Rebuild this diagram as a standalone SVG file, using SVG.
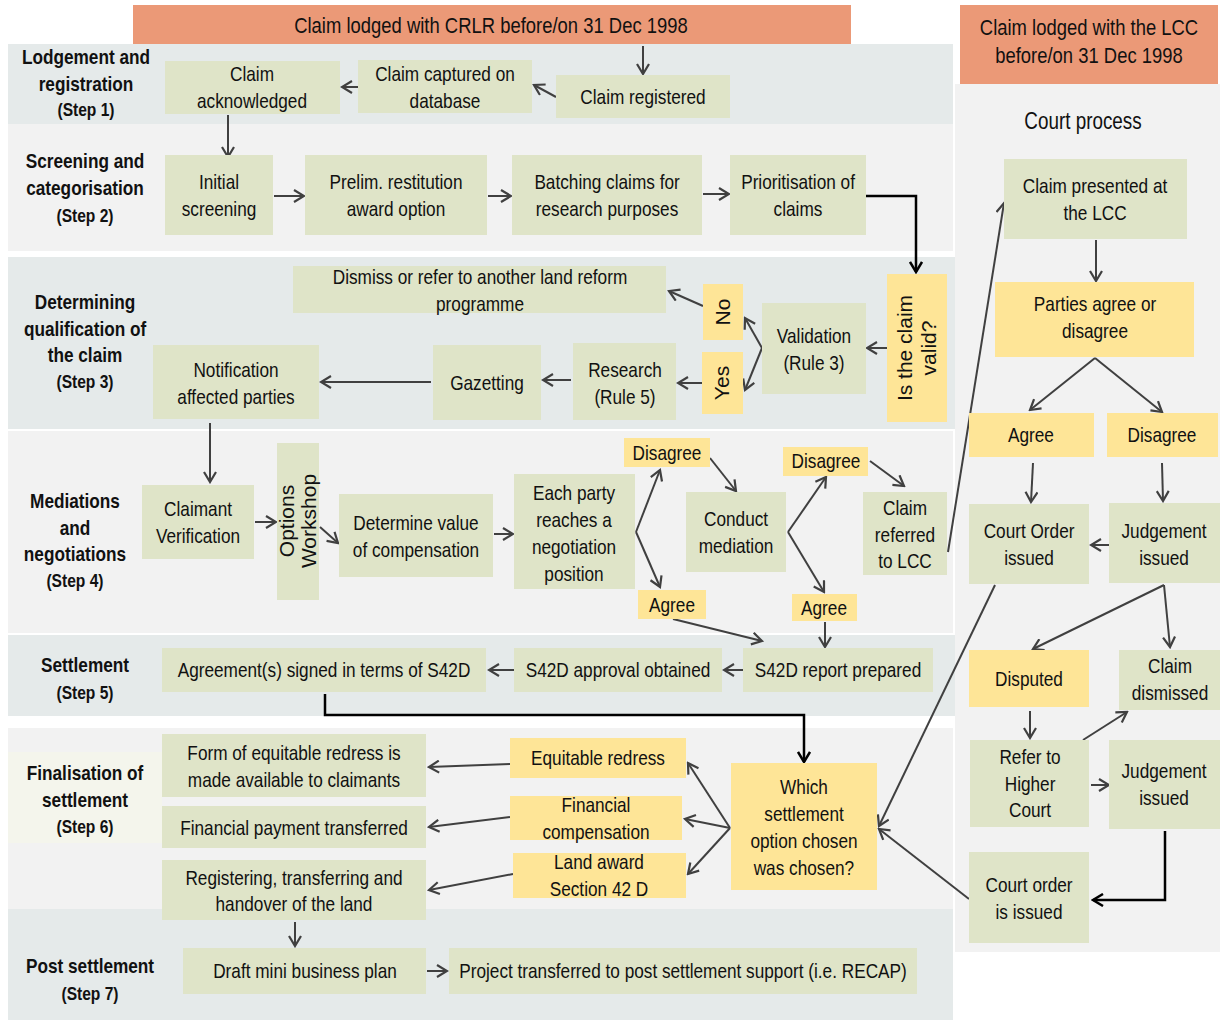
<svg xmlns="http://www.w3.org/2000/svg" width="1220" height="1020" viewBox="0 0 1220 1020">
<defs>
<style>
.bb{fill:#e5eaea}
.bg{fill:#f2f2f2}
.bc{fill:#f4f5ec}
.o{fill:#eb9977}
.g{fill:#dfe4c8}
.y{fill:#fee597}
text{font-family:"Liberation Sans",Arial,sans-serif;font-size:21px;fill:#111;text-anchor:middle;transform-box:fill-box;transform-origin:center;transform:scaleX(.82)}
.s{font-weight:bold;font-size:21px}
.st{font-weight:bold;font-size:19px}
.h{font-size:22.5px}
.r{font-size:21px;transform:none}
.c{stroke:#404040;stroke-width:2;fill:none;marker-end:url(#a)}
.k{stroke:#000;stroke-width:2.5;fill:none;marker-end:url(#ak)}
</style>
<marker id="a" viewBox="0 0 14 14" refX="12" refY="7" markerWidth="14" markerHeight="14" markerUnits="userSpaceOnUse" orient="auto">
<path d="M2,1 L12,7 L2,13" stroke="#404040" stroke-width="2.2" fill="none"/>
</marker>
<marker id="ak" viewBox="0 0 14 14" refX="12" refY="7" markerWidth="14" markerHeight="14" markerUnits="userSpaceOnUse" orient="auto">
<path d="M2,1 L12,7 L2,13" stroke="#000" stroke-width="2.5" fill="none"/>
</marker>
</defs>
<rect width="1220" height="1020" fill="#fff"/>
<g id="bands">
<rect class="bb" x="8" y="44" width="945" height="80"/>
<rect class="bg" x="8" y="124" width="945" height="127"/>
<rect class="bb" x="8" y="257" width="950" height="172"/>
<rect class="bg" x="8" y="431" width="945" height="202"/>
<rect class="bb" x="8" y="635" width="947" height="81"/>
<rect class="bg" x="8" y="728" width="945" height="181"/>
<rect class="bc" x="8" y="752" width="154" height="91"/>
<rect class="bb" x="8" y="909" width="945" height="111"/>
<rect class="bg" x="955" y="84" width="265" height="868"/>
</g>
<g id="steps">
<text class="s" x="86" y="64">Lodgement and</text>
<text class="s" x="86" y="91">registration</text>
<text class="st" x="86" y="116">(Step 1)</text>
<text class="s" x="85" y="168">Screening and</text>
<text class="s" x="85" y="195">categorisation</text>
<text class="st" x="85" y="222">(Step 2)</text>
<text class="s" x="85" y="309">Determining</text>
<text class="s" x="85" y="336">qualification of</text>
<text class="s" x="85" y="362">the claim</text>
<text class="st" x="85" y="388">(Step 3)</text>
<text class="s" x="75" y="508">Mediations</text>
<text class="s" x="75" y="535">and</text>
<text class="s" x="75" y="561">negotiations</text>
<text class="st" x="75" y="587">(Step 4)</text>
<text class="s" x="85" y="672">Settlement</text>
<text class="st" x="85" y="699">(Step 5)</text>
<text class="s" x="85" y="780">Finalisation of</text>
<text class="s" x="85" y="807">settlement</text>
<text class="st" x="85" y="833">(Step 6)</text>
<text class="s" x="90" y="973">Post settlement</text>
<text class="st" x="90" y="1000">(Step 7)</text>
<text class="h" x="1083" y="129" style="font-size:23px">Court process</text>
</g>
<g id="connectors">
<path class="c" d="M643,46 L643,74"/>
<path class="c" d="M556,97 L534,85"/>
<path class="c" d="M358,87 L342,87"/>
<path class="c" d="M228,115 L228,157"/>
<path class="c" d="M274,196 L304,196"/>
<path class="c" d="M488,196 L511,196"/>
<path class="c" d="M703,194 L729,194"/>
<path class="k" d="M866,196 L916,196 L916,272"/>
<path class="c" d="M887,348 L867,348"/>
<path class="c" d="M762,348 L745,318"/>
<path class="c" d="M762,348 L745,390"/>
<path class="c" d="M703,306 L669,291"/>
<path class="c" d="M702,383 L678,383"/>
<path class="c" d="M571,380 L543,380"/>
<path class="c" d="M431,382 L321,382"/>
<path class="c" d="M210,423 L210,482"/>
<path class="c" d="M255,522 L276,522"/>
<path class="c" d="M320,527 L338,543"/>
<path class="c" d="M494,534 L513,534"/>
<path class="c" d="M636,532 L660,470"/>
<path class="c" d="M636,532 L660,587"/>
<path class="c" d="M710,458 L736,491"/>
<path class="c" d="M788,532 L826,477"/>
<path class="c" d="M788,532 L824,592"/>
<path class="c" d="M870,461 L904,486"/>
<path class="c" d="M948,552 L1004,203"/>
<path class="c" d="M673,619 L762,641"/>
<path class="c" d="M825,622 L825,647"/>
<path class="c" d="M743,670 L724,670"/>
<path class="c" d="M514,670 L489,670"/>
<path class="k" d="M325,694 L325,715 L804,715 L804,762"/>
<path class="c" d="M730,828 L688,763"/>
<path class="c" d="M730,828 L685,819"/>
<path class="c" d="M730,828 L688,874"/>
<path class="c" d="M510,764 L429,767"/>
<path class="c" d="M510,817 L429,827"/>
<path class="c" d="M513,874 L429,890"/>
<path class="c" d="M295,922 L295,946"/>
<path class="c" d="M427,971 L447,971"/>
<path class="c" d="M1096,240 L1096,281"/>
<path class="c" d="M1095,358 L1030,410"/>
<path class="c" d="M1095,358 L1162,412"/>
<path class="c" d="M1033,463 L1031,502"/>
<path class="c" d="M1162,463 L1163,501"/>
<path class="c" d="M1109,545 L1091,545"/>
<path class="c" d="M995,585 L879,826"/>
<path class="c" d="M1164,585 L1033,649"/>
<path class="c" d="M1164,585 L1170,647"/>
<path class="c" d="M1030,711 L1030,738"/>
<path class="c" d="M1083,740 L1127,712"/>
<path class="c" d="M1091,785 L1109,785"/>
<path class="k" d="M1165,831 L1165,900 L1093,900"/>
<path class="c" d="M969,899 L879,829"/>
</g>
<g id="header-crlr"><rect class="o" x="133" y="5" width="718" height="39"/><text class="h" x="491" y="33">Claim lodged with CRLR before/on 31 Dec 1998</text></g>
<g id="header-lcc"><rect class="o" x="960" y="5" width="258" height="79"/><text class="h" x="1089" y="35">Claim lodged with the LCC</text><text class="h" x="1089" y="63">before/on 31 Dec 1998</text></g>
<g id="claim-acknowledged"><rect class="g" x="165" y="61" width="175" height="53"/><text x="252" y="81">Claim</text><text x="252" y="108">acknowledged</text></g>
<g id="claim-captured"><rect class="g" x="358" y="60" width="174" height="53"/><text x="445" y="81">Claim captured on</text><text x="445" y="108">database</text></g>
<g id="claim-registered"><rect class="g" x="556" y="75" width="174" height="43"/><text x="643" y="104">Claim registered</text></g>
<g id="initial-screening"><rect class="g" x="165" y="155" width="108" height="80"/><text x="219" y="189">Initial</text><text x="219" y="216">screening</text></g>
<g id="prelim"><rect class="g" x="305" y="155" width="182" height="80"/><text x="396" y="189">Prelim. restitution</text><text x="396" y="216">award option</text></g>
<g id="batching"><rect class="g" x="512" y="155" width="190" height="80"/><text x="607" y="189">Batching claims for</text><text x="607" y="216">research purposes</text></g>
<g id="prioritisation"><rect class="g" x="730" y="155" width="136" height="80"/><text x="798" y="189">Prioritisation of</text><text x="798" y="216">claims</text></g>
<g id="is-valid"><rect class="y" x="887" y="274" width="60" height="148"/><g transform="translate(917,348) rotate(-90)"><text class="r" x="0" y="-5">Is the claim</text><text class="r" x="0" y="19">valid?</text></g></g>
<g id="validation"><rect class="g" x="762" y="303" width="104" height="91"/><text x="814" y="343">Validation</text><text x="814" y="370">(Rule 3)</text></g>
<g id="no"><rect class="y" x="703" y="284" width="40" height="56"/><g transform="translate(723,312) rotate(-90)"><text class="r" x="0" y="7">No</text></g></g>
<g id="yes"><rect class="y" x="702" y="352" width="41" height="62"/><g transform="translate(722,383) rotate(-90)"><text class="r" x="0" y="7">Yes</text></g></g>
<g id="dismiss"><rect class="g" x="293" y="266" width="373" height="47"/><text x="480" y="284">Dismiss or refer to another land reform</text><text x="480" y="311">programme</text></g>
<g id="research"><rect class="g" x="573" y="343" width="103" height="77"/><text x="625" y="377">Research</text><text x="625" y="404">(Rule 5)</text></g>
<g id="gazetting"><rect class="g" x="433" y="345" width="108" height="75"/><text x="487" y="390">Gazetting</text></g>
<g id="notification"><rect class="g" x="153" y="345" width="166" height="74"/><text x="236" y="377">Notification</text><text x="236" y="404">affected parties</text></g>
<g id="claimant-verification"><rect class="g" x="142" y="485" width="112" height="74"/><text x="198" y="516">Claimant</text><text x="198" y="543">Verification</text></g>
<g id="options-workshop"><rect class="g" x="277" y="443" width="42" height="157"/><g transform="translate(298,521) rotate(-90)"><text class="r" x="0" y="-4">Options</text><text class="r" x="0" y="18">Workshop</text></g></g>
<g id="determine-value"><rect class="g" x="339" y="494" width="154" height="83"/><text x="416" y="530">Determine value</text><text x="416" y="557">of compensation</text></g>
<g id="each-party"><rect class="g" x="514" y="474" width="121" height="115"/><text x="574" y="500">Each party</text><text x="574" y="527">reaches a</text><text x="574" y="554">negotiation</text><text x="574" y="581">position</text></g>
<g id="disagree-1"><rect class="y" x="624" y="438" width="86" height="29"/><text x="667" y="460">Disagree</text></g>
<g id="agree-1"><rect class="y" x="638" y="590" width="68" height="29"/><text x="672" y="612">Agree</text></g>
<g id="conduct-mediation"><rect class="g" x="686" y="492" width="100" height="80"/><text x="736" y="526">Conduct</text><text x="736" y="553">mediation</text></g>
<g id="disagree-2"><rect class="y" x="783" y="447" width="85" height="29"/><text x="826" y="468">Disagree</text></g>
<g id="agree-2"><rect class="y" x="792" y="594" width="65" height="27"/><text x="824" y="615">Agree</text></g>
<g id="claim-referred"><rect class="g" x="863" y="492" width="84" height="83"/><text x="905" y="515">Claim</text><text x="905" y="542">referred</text><text x="905" y="568">to LCC</text></g>
<g id="s42d-report"><rect class="g" x="743" y="648" width="190" height="44"/><text x="838" y="677">S42D report prepared</text></g>
<g id="s42d-approval"><rect class="g" x="514" y="648" width="208" height="44"/><text x="618" y="677">S42D approval obtained</text></g>
<g id="agreement-signed"><rect class="g" x="162" y="648" width="324" height="44"/><text x="324" y="677">Agreement(s) signed in terms of S42D</text></g>
<g id="which-option"><rect class="y" x="731" y="763" width="146" height="127"/><text x="804" y="794">Which</text><text x="804" y="821">settlement</text><text x="804" y="848">option chosen</text><text x="804" y="875">was chosen?</text></g>
<g id="equitable-redress"><rect class="y" x="510" y="738" width="176" height="40"/><text x="598" y="765">Equitable  redress</text></g>
<g id="financial-compensation"><rect class="y" x="510" y="796" width="172" height="44"/><text x="596" y="812">Financial</text><text x="596" y="839">compensation</text></g>
<g id="land-award"><rect class="y" x="513" y="853" width="173" height="45"/><text x="599" y="869">Land award</text><text x="599" y="896">Section 42 D</text></g>
<g id="form-equitable"><rect class="g" x="162" y="734" width="264" height="63"/><text x="294" y="760">Form of equitable  redress is</text><text x="294" y="787">made  available  to claimants</text></g>
<g id="financial-payment"><rect class="g" x="162" y="806" width="264" height="42"/><text x="294" y="835">Financial  payment  transferred</text></g>
<g id="registering"><rect class="g" x="162" y="860" width="264" height="60"/><text x="294" y="885">Registering, transferring and</text><text x="294" y="911">handover of the land</text></g>
<g id="draft-plan"><rect class="g" x="183" y="948" width="243" height="46"/><text x="305" y="978">Draft mini  business plan</text></g>
<g id="project-transferred"><rect class="g" x="449" y="948" width="468" height="46"/><text x="683" y="978">Project transferred to post settlement  support (i.e. RECAP)</text></g>
<g id="claim-presented"><rect class="g" x="1004" y="159" width="183" height="80"/><text x="1095" y="193">Claim presented at</text><text x="1095" y="220">the LCC</text></g>
<g id="parties-agree"><rect class="y" x="995" y="282" width="199" height="75"/><text x="1095" y="311">Parties agree or</text><text x="1095" y="338">disagree</text></g>
<g id="agree-lcc"><rect class="y" x="969" y="413" width="125" height="44"/><text x="1031" y="442">Agree</text></g>
<g id="disagree-lcc"><rect class="y" x="1107" y="413" width="111" height="44"/><text x="1162" y="442">Disagree</text></g>
<g id="court-order-issued"><rect class="g" x="969" y="504" width="120" height="80"/><text x="1029" y="538">Court Order</text><text x="1029" y="565">issued</text></g>
<g id="judgement-1"><rect class="g" x="1109" y="503" width="111" height="80"/><text x="1164" y="538">Judgement</text><text x="1164" y="565">issued</text></g>
<g id="disputed"><rect class="y" x="969" y="650" width="120" height="57"/><text x="1029" y="686">Disputed</text></g>
<g id="claim-dismissed"><rect class="g" x="1119" y="650" width="101" height="60"/><text x="1170" y="673">Claim</text><text x="1170" y="700">dismissed</text></g>
<g id="refer-higher"><rect class="g" x="970" y="740" width="119" height="87"/><text x="1030" y="764">Refer to</text><text x="1030" y="791">Higher</text><text x="1030" y="817">Court</text></g>
<g id="judgement-2"><rect class="g" x="1109" y="740" width="111" height="89"/><text x="1164" y="778">Judgement</text><text x="1164" y="805">issued</text></g>
<g id="court-order-is-issued"><rect class="g" x="969" y="852" width="120" height="91"/><text x="1029" y="892">Court order</text><text x="1029" y="919">is issued</text></g>
</svg>
